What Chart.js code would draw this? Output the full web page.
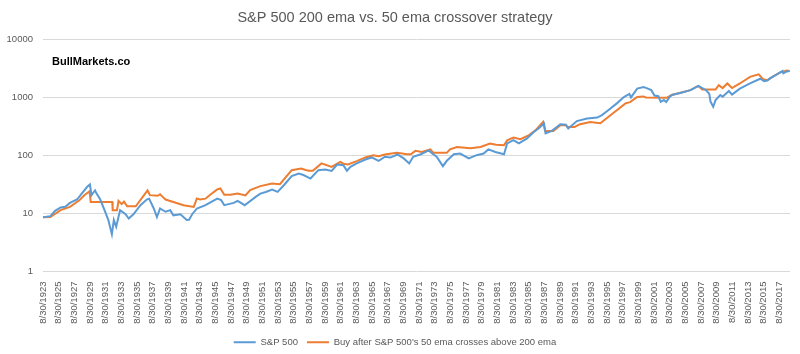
<!DOCTYPE html>
<html>
<head>
<meta charset="utf-8">
<script src="https://cdn.jsdelivr.net/npm/chart.js@4.4.1/dist/chart.umd.min.js"></script>
<style>
  html, body { margin: 0; padding: 0; background: #fff; }
  #wrap { width: 800px; height: 354px; }
</style>
</head>
<body>
<div id="wrap"><canvas id="grafica" width="800" height="354"></canvas></div>
<script>
// S&P 500
var spYears = [1923.66, 1924.6, 1925.2, 1925.9, 1926.5, 1927.1, 1928.0, 1928.6, 1929.3, 1929.65,
    1929.85, 1930.1, 1930.3, 1930.5, 1930.97, 1931.6, 1932.0, 1932.45, 1932.7, 1933.0,
    1933.5, 1934.2, 1934.6, 1935.2, 1936.1, 1936.9, 1937.2, 1937.8, 1938.2, 1938.6,
    1939.3, 1939.9, 1940.3, 1941.2, 1942.0, 1942.3, 1942.7, 1943.3, 1944.4, 1945.9,
    1946.4, 1946.8, 1948.0, 1948.5, 1949.4, 1950.8, 1951.4, 1952.1, 1952.9, 1953.6,
    1954.4, 1955.4, 1956.3, 1956.9, 1957.8, 1958.8, 1959.7, 1960.5, 1961.2, 1962.0,
    1962.45, 1962.9, 1963.7, 1964.8, 1965.6, 1966.5, 1967.3, 1968.0, 1968.9, 1969.7,
    1970.4, 1970.9, 1971.8, 1972.9, 1973.3, 1973.9, 1974.7, 1975.2, 1976.1, 1976.9,
    1978.0, 1979.0, 1979.9, 1980.5, 1981.4, 1982.5, 1982.9, 1983.7, 1984.4, 1985.4,
    1986.3, 1986.9, 1987.6, 1987.8, 1988.6, 1989.7, 1990.4, 1990.7, 1991.8, 1993.1,
    1994.4, 1995.0, 1995.8, 1996.9, 1997.8, 1998.5, 1998.7, 1999.5, 2000.3, 2000.7,
    2001.3, 2001.7, 2002.2, 2002.5, 2002.9, 2003.2, 2003.6, 2003.9, 2005.0, 2006.3,
    2007.3, 2008.3, 2008.7, 2008.85, 2009.0, 2009.2, 2009.5, 2010.1, 2010.4, 2011.2,
    2011.6, 2012.6, 2013.9, 2015.2, 2015.7, 2016.1, 2016.5, 2017.7, 2018.05, 2018.15,
    2018.6, 2018.95];
var spValues = [8.6, 9.0, 11.1, 12.7, 13, 15.2, 17.4, 22, 28.8, 31.6,
    20.7, 23, 25, 22, 17.4, 10.7, 7.7, 4.4, 7.7, 5.9,
    11.4, 9.7, 8.2, 9.7, 13.9, 17.4, 18, 12.2, 8.7, 12.2,
    10.7, 11.4, 9.3, 9.7, 7.7, 7.8, 9.7, 12.2, 13.9, 18,
    17, 13.9, 15.2, 16.5, 13.9, 19.3, 22, 23.5, 25.9, 23.6,
    30.7, 44, 48.8, 46, 40, 55.8, 57.3, 54, 69.8, 68,
    54.5, 63.5, 72.9, 85, 92.4, 80.9, 95, 92, 104, 88.9,
    72.9, 95, 104, 122, 109, 95, 65.4, 80.9, 105, 108,
    88.9, 101, 108, 127, 115, 105, 161, 184, 161, 195,
    254, 292, 355, 240, 265, 346, 340, 292, 391, 433,
    450, 495, 600, 790, 1015, 1150, 1000, 1420, 1510, 1450,
    1335, 1080, 1050, 840, 900, 830, 1000, 1100, 1190, 1335,
    1580, 1330, 1150, 850, 780, 690, 900, 1100, 1030, 1290,
    1120, 1420, 1740, 2100, 1900, 1950, 2150, 2680, 2850, 2600,
    2800, 2850];

// Estrategia: comprar cuando la ema 50 cruza arriba de la ema 200
var stratYears = [1923.66, 1924.6, 1925.9, 1927.1, 1928.3, 1929.0, 1929.6, 1929.75, 1932.5, 1932.55,
    1933.1, 1933.3, 1933.7, 1934.0, 1934.4, 1935.5, 1937.0, 1937.3, 1938.3, 1938.6,
    1938.9, 1939.3, 1940.5, 1941.6, 1942.9, 1943.3, 1943.7, 1944.4, 1945.0, 1945.9,
    1946.3, 1946.8, 1947.6, 1948.5, 1949.5, 1950.1, 1951.4, 1952.9, 1953.9, 1955.4,
    1956.6, 1957.2, 1957.6, 1958.1, 1959.2, 1960.5, 1961.6, 1962.0, 1962.6, 1963.7,
    1964.8, 1965.8, 1966.5, 1967.3, 1968.8, 1969.5, 1970.1, 1970.6, 1971.2, 1972.0,
    1973.1, 1973.5, 1975.2, 1975.6, 1976.5, 1978.2, 1979.5, 1980.7, 1981.5, 1982.5,
    1982.9, 1983.7, 1984.6, 1985.7, 1986.5, 1987.5, 1987.75, 1988.8, 1989.7, 1990.4,
    1990.6, 1991.5, 1992.2, 1993.5, 1994.8, 1995.8, 1996.9, 1998.0, 1998.6, 1999.5,
    2000.3, 2000.6, 2003.3, 2003.9, 2006.3, 2007.3, 2007.8, 2009.5, 2009.9, 2010.4,
    2011.0, 2011.6, 2012.6, 2013.9, 2015.0, 2015.6, 2016.1, 2016.5, 2017.7, 2018.6,
    2018.95];
var stratValues = [8.6, 8.7, 11.4, 13, 16.9, 21, 24, 15.8, 15.8, 11.4,
    11.4, 16.5, 14.5, 16, 13.3, 13.3, 25, 20.7, 20.2, 21.5,
    19.5, 17.4, 15.5, 13.9, 13, 18.1, 17.5, 18, 21, 26,
    27, 21, 21, 22, 20.5, 25.3, 29.6, 32.9, 32, 55.8,
    59.5, 56, 54.3, 54.3, 72.9, 63.5, 77.5, 72, 70, 80,
    92.4, 101, 97, 104, 111, 108, 105, 105, 120, 115,
    127, 111, 111, 127, 140, 133, 140, 161, 153, 150,
    182, 204, 190, 224, 271, 378, 265, 265, 333, 330,
    310, 310, 346, 378, 360, 460, 600, 790, 830, 1015,
    1040, 1000, 990, 1100, 1335, 1580, 1370, 1370, 1630, 1450,
    1740, 1450, 1740, 2260, 2500, 2050, 1980, 2150, 2680, 2900,
    2850];

var yTicks = [1, 10, 100, 1000, 10000];
var firstTickYear = 1923.66;
var lastTickYear = 2017;

function puntos(xs, ys) {
    return xs.map(function (x, i) { return { x: x, y: ys[i] }; });
}

var marcaAgua = {
    id: 'marcaAgua',
    afterDraw: function (chart) {
        var ctx = chart.ctx;
        ctx.save();
        ctx.font = 'bold 11px "Liberation Sans", Arial, sans-serif';
        ctx.fillStyle = '#000';
        ctx.textBaseline = 'middle';
        ctx.fillText('BullMarkets.co', 52, 62);
        ctx.restore();
    }
};

var gris = '#595959';
var fuente = '"Liberation Sans", Arial, sans-serif';

var ctx = document.getElementById('grafica').getContext('2d');
window.myLine = new Chart(ctx, {
    type: 'line',
    data: {
        datasets: [{
            label: 'S&P 500',
            data: puntos(spYears, spValues),
            borderColor: '#5B9BD5',
            backgroundColor: '#5B9BD5',
            borderWidth: 2,
            pointRadius: 0,
            tension: 0
        }, {
            label: "Buy after S&P 500's 50 ema crosses above 200 ema",
            data: puntos(stratYears, stratValues),
            borderColor: '#ED7D31',
            backgroundColor: '#ED7D31',
            borderWidth: 2,
            pointRadius: 0,
            tension: 0
        }]
    },
    options: {
        responsive: false,
        animation: false,
        layout: { padding: { left: 0, right: 10, top: 0, bottom: -3 } },
        plugins: {
            title: {
                display: true,
                text: 'S&P 500 200 ema vs. 50 ema crossover strategy',
                color: gris,
                font: { family: fuente, size: 14.5, weight: 'normal' },
                padding: { top: 9, bottom: 13 }
            },
            legend: {
                position: 'bottom',
                labels: {
                    color: gris,
                    font: { family: fuente, size: 9.5 },
                    usePointStyle: true,
                    pointStyle: 'line',
                    pointStyleWidth: 22,
                    padding: 9
                }
            },
            tooltip: { enabled: false }
        },
        scales: {
            x: {
                type: 'linear',
                min: firstTickYear,
                max: 2019.0,
                grid: { display: false },
                border: { display: false },
                afterBuildTicks: function (scale) {
                    var t = [];
                    for (var y = 1923; y <= lastTickYear; y += 2) {
                        t.push({ value: firstTickYear + (y - 1923) });
                    }
                    scale.ticks = t;
                },
                afterFit: function (scale) { scale.height = 57; },
                ticks: {
                    autoSkip: false,
                    maxRotation: 90,
                    minRotation: 90,
                    padding: 2,
                    color: gris,
                    font: { family: fuente, size: 9.5 },
                    callback: function (value) {
                        return '8/30/' + Math.round(value - 0.66);
                    }
                }
            },
            y: {
                type: 'logarithmic',
                min: 1,
                max: 10000,
                border: { display: false },
                grid: { color: '#d9d9d9', lineWidth: 1, drawTicks: false },
                afterBuildTicks: function (scale) {
                    scale.ticks = yTicks.map(function (v) { return { value: v }; });
                },
                afterFit: function (scale) { scale.width = 43; },
                ticks: {
                    padding: 10,
                    color: gris,
                    font: { family: fuente, size: 9.5 },
                    callback: function (value) { return String(value); }
                }
            }
        }
    },
    plugins: [marcaAgua]
});
</script>
</body>
</html>
